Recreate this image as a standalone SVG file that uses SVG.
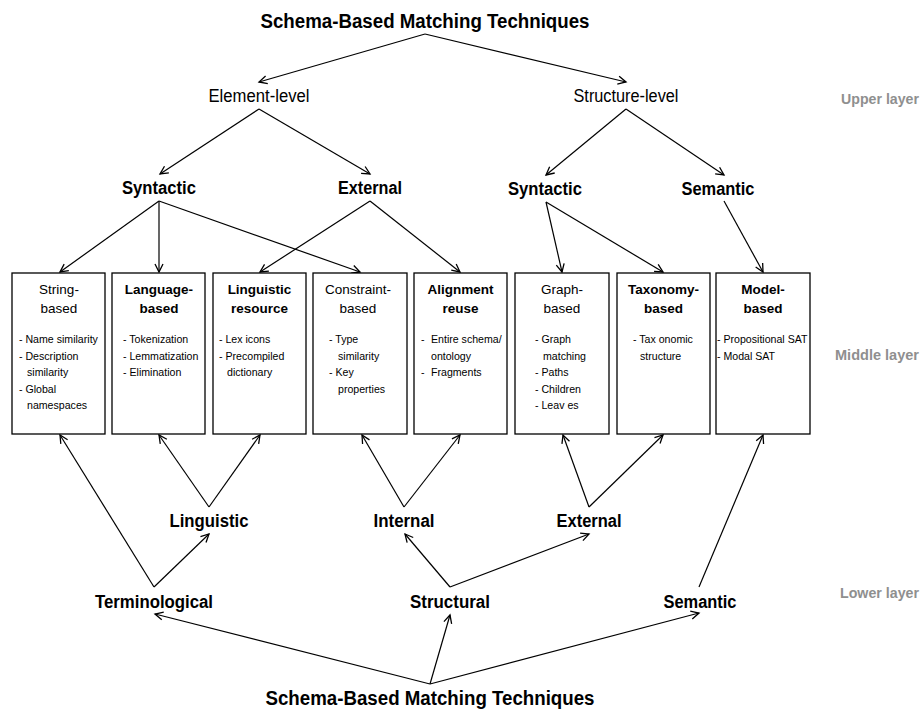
<svg xmlns="http://www.w3.org/2000/svg" width="923" height="711" viewBox="0 0 923 711">
<style>
text{font-family:"Liberation Sans",Arial,sans-serif;fill:#000}
.h{font-size:19.5px;font-weight:bold;text-anchor:middle}
.l{font-size:18px;font-weight:bold;text-anchor:middle}
.r{font-size:17.5px;text-anchor:middle}
.t{font-size:13.5px;text-anchor:middle}
.tb{font-size:13.5px;font-weight:bold;text-anchor:middle}
.b{font-size:10.6px}
.layer{font-size:14.5px;font-weight:bold;fill:#8f8f8f;text-anchor:end}
.box{fill:#fff;stroke:#000;stroke-width:1.3}
#connectors line{stroke:#000;stroke-width:1.2;marker-end:url(#arr)}
</style>
<defs>
<marker id="arr" markerUnits="userSpaceOnUse" markerWidth="12" markerHeight="12" viewBox="-10 -6 12 12" refX="0" refY="0" orient="auto">
<path d="M-8,-4 L0,0 L-8,4" fill="none" stroke="#000" stroke-width="1.3"/>
</marker>
</defs>
<rect width="923" height="711" fill="#fff"/>

<g id="connectors">
<line x1="425" y1="34" x2="259" y2="82"/>
<line x1="425" y1="34" x2="626" y2="82"/>
<line x1="259" y1="109" x2="160" y2="174"/>
<line x1="259" y1="109" x2="370" y2="174"/>
<line x1="626" y1="109" x2="546" y2="175"/>
<line x1="626" y1="109" x2="724" y2="175"/>
<line x1="159" y1="201" x2="60" y2="272"/>
<line x1="159" y1="201" x2="159" y2="272"/>
<line x1="159" y1="201" x2="360" y2="272"/>
<line x1="370" y1="201" x2="260" y2="272"/>
<line x1="370" y1="201" x2="460" y2="272"/>
<line x1="546" y1="202" x2="562" y2="272"/>
<line x1="546" y1="202" x2="663" y2="272"/>
<line x1="724" y1="201" x2="763" y2="272"/>
<line x1="154" y1="587" x2="60" y2="435"/>
<line x1="154" y1="587" x2="209" y2="534"/>
<line x1="209" y1="507" x2="159" y2="435"/>
<line x1="209" y1="507" x2="260" y2="435"/>
<line x1="404" y1="507" x2="362" y2="435"/>
<line x1="404" y1="507" x2="460" y2="435"/>
<line x1="589" y1="507" x2="563" y2="435"/>
<line x1="589" y1="507" x2="663" y2="435"/>
<line x1="450" y1="587" x2="405" y2="534"/>
<line x1="450" y1="587" x2="589" y2="534"/>
<line x1="699" y1="587" x2="763" y2="435"/>
<line x1="430" y1="684" x2="155" y2="614"/>
<line x1="430" y1="684" x2="450" y2="615"/>
<line x1="430" y1="684" x2="699" y2="613"/>
</g>

<g id="n-title-top"><text class="h" x="425" y="28" textLength="329" lengthAdjust="spacingAndGlyphs">Schema-Based Matching Techniques</text></g>
<g id="n-element-level"><text class="r" x="259" y="102" textLength="101" lengthAdjust="spacingAndGlyphs">Element-level</text></g>
<g id="n-structure-level"><text class="r" x="626" y="102" textLength="105" lengthAdjust="spacingAndGlyphs">Structure-level</text></g>
<g id="n-syntactic-el"><text class="l" x="159" y="194" textLength="74" lengthAdjust="spacingAndGlyphs">Syntactic</text></g>
<g id="n-external-el"><text class="l" x="370" y="194" textLength="64" lengthAdjust="spacingAndGlyphs">External</text></g>
<g id="n-syntactic-st"><text class="l" x="545" y="195" textLength="74" lengthAdjust="spacingAndGlyphs">Syntactic</text></g>
<g id="n-semantic-st"><text class="l" x="718" y="195" textLength="73" lengthAdjust="spacingAndGlyphs">Semantic</text></g>

<g id="n-string">
<rect class="box" x="12" y="273" width="93" height="161"/>
<text class="t" x="59" y="294">String-</text>
<text class="t" x="59" y="313">based</text>
<text class="b" x="19" y="343">- Name similarity</text>
<text class="b" x="19" y="359.5">- Description</text>
<text class="b" x="27" y="376">similarity</text>
<text class="b" x="19" y="392.5">- Global</text>
<text class="b" x="27" y="409">namespaces</text>
</g>
<g id="n-language">
<rect class="box" x="112" y="273" width="93" height="161"/>
<text class="tb" x="159" y="294">Language-</text>
<text class="tb" x="159" y="313">based</text>
<text class="b" x="123" y="343">- Tokenization</text>
<text class="b" x="123" y="359.5">- Lemmatization</text>
<text class="b" x="123" y="376">- Elimination</text>
</g>
<g id="n-linguistic-resource">
<rect class="box" x="213" y="273" width="93" height="161"/>
<text class="tb" x="259.5" y="294">Linguistic</text>
<text class="tb" x="259.5" y="313">resource</text>
<text class="b" x="219" y="343">- Lex icons</text>
<text class="b" x="219" y="359.5">- Precompiled</text>
<text class="b" x="227" y="376">dictionary</text>
</g>
<g id="n-constraint">
<rect class="box" x="313" y="273" width="94" height="161"/>
<text class="t" x="358" y="294">Constraint-</text>
<text class="t" x="358" y="313">based</text>
<text class="b" x="329" y="343">- Type</text>
<text class="b" x="338" y="359.5">similarity</text>
<text class="b" x="329" y="376">- Key</text>
<text class="b" x="338" y="392.5">properties</text>
</g>
<g id="n-alignment">
<rect class="box" x="414" y="273" width="93" height="161"/>
<text class="tb" x="460.5" y="294">Alignment</text>
<text class="tb" x="460.5" y="313">reuse</text>
<text class="b" x="421" y="343">-</text><text class="b" x="431" y="343">Entire schema/</text>
<text class="b" x="431" y="359.5">ontology</text>
<text class="b" x="421" y="376">-</text><text class="b" x="431" y="376">Fragments</text>
</g>
<g id="n-graph">
<rect class="box" x="515" y="273" width="94" height="161"/>
<text class="t" x="562" y="294">Graph-</text>
<text class="t" x="562" y="313">based</text>
<text class="b" x="535" y="343">- Graph</text>
<text class="b" x="543" y="359.5">matching</text>
<text class="b" x="535" y="376">- Paths</text>
<text class="b" x="535" y="392.5">- Children</text>
<text class="b" x="535" y="409">- Leav es</text>
</g>
<g id="n-taxonomy">
<rect class="box" x="617" y="273" width="93" height="161"/>
<text class="tb" x="663.5" y="294">Taxonomy-</text>
<text class="tb" x="663.5" y="313">based</text>
<text class="b" x="633" y="343">- Tax onomic</text>
<text class="b" x="640" y="359.5">structure</text>
</g>
<g id="n-model">
<rect class="box" x="716" y="273" width="94" height="161"/>
<text class="tb" x="763" y="294">Model-</text>
<text class="tb" x="763" y="313">based</text>
<text class="b" x="717" y="343">- Propositional SAT</text>
<text class="b" x="717" y="359.5">- Modal SAT</text>
</g>

<g id="n-linguistic"><text class="l" x="209" y="527" textLength="79" lengthAdjust="spacingAndGlyphs">Linguistic</text></g>
<g id="n-internal"><text class="l" x="404" y="527" textLength="61" lengthAdjust="spacingAndGlyphs">Internal</text></g>
<g id="n-external-low"><text class="l" x="589" y="527" textLength="65" lengthAdjust="spacingAndGlyphs">External</text></g>
<g id="n-terminological"><text class="l" x="154" y="608" textLength="118" lengthAdjust="spacingAndGlyphs">Terminological</text></g>
<g id="n-structural"><text class="l" x="450" y="608" textLength="80" lengthAdjust="spacingAndGlyphs">Structural</text></g>
<g id="n-semantic-low"><text class="l" x="700" y="608" textLength="73" lengthAdjust="spacingAndGlyphs">Semantic</text></g>
<g id="n-title-bottom"><text class="h" x="430" y="705" textLength="329" lengthAdjust="spacingAndGlyphs">Schema-Based Matching Techniques</text></g>

<g id="layers">
<text class="layer" x="919" y="104" textLength="78" lengthAdjust="spacingAndGlyphs">Upper layer</text>
<text class="layer" x="919" y="360" textLength="84" lengthAdjust="spacingAndGlyphs">Middle layer</text>
<text class="layer" x="919" y="598" textLength="79" lengthAdjust="spacingAndGlyphs">Lower layer</text>
</g>
</svg>
